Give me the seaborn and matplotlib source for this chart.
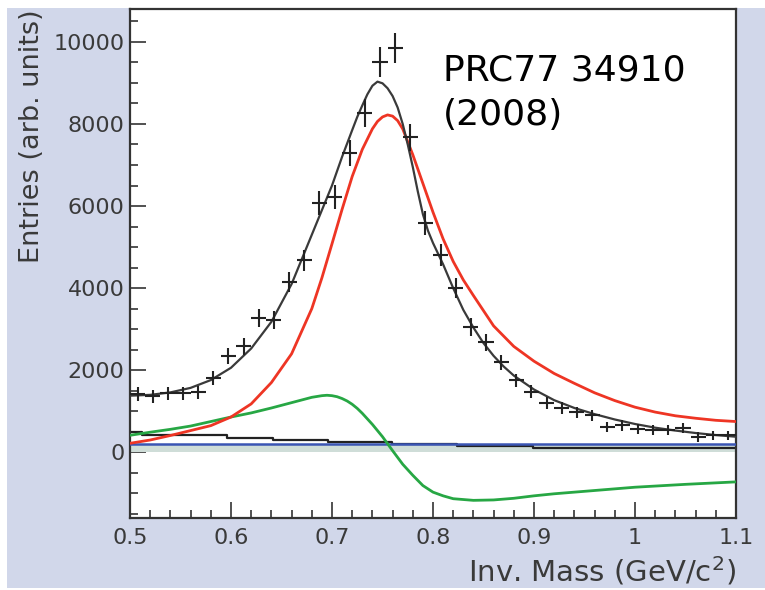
import numpy as np
import pandas as pd
import matplotlib
matplotlib.use("Agg")
import matplotlib.pyplot as plt
from matplotlib.patches import Rectangle
from matplotlib.ticker import MultipleLocator, FixedLocator, FixedFormatter
import seaborn as sns

# ---------------- data ----------------
bin_width = 0.015
data_x = [0.5075, 0.5225, 0.5375, 0.5525, 0.5675, 0.5825, 0.5975, 0.6125, 0.6275, 0.6425,
          0.6575, 0.6725, 0.6875, 0.7025, 0.7175, 0.7325, 0.7475, 0.7625, 0.7775, 0.7925,
          0.8075, 0.8225, 0.8375, 0.8525, 0.8675, 0.8825, 0.8975, 0.9125, 0.9275, 0.9425,
          0.9575, 0.9725, 0.9875, 1.0025, 1.0175, 1.0325, 1.0475, 1.0625, 1.0775, 1.0925]
data_y = [1420, 1370, 1440, 1440, 1460, 1820, 2350, 2580, 3270, 3220,
          4150, 4680, 6070, 6220, 7290, 8270, 9510, 9850, 7680, 5590,
          4800, 4000, 3050, 2680, 2190, 1750, 1480, 1200, 1090, 975,
          900, 620, 660, 560, 540, 540, 590, 370, 410, 410]
data_yerr = [160, 160, 160, 160, 160, 170, 190, 200, 220, 220,
             250, 260, 300, 300, 320, 340, 360, 370, 330, 290,
             270, 250, 220, 200, 185, 170, 160, 150, 145, 140,
             135, 130, 130, 125, 125, 125, 125, 120, 120, 120]

fit_x = [0.50, 0.52, 0.54, 0.56, 0.58, 0.60, 0.62, 0.64, 0.66, 0.68, 0.70, 0.71, 0.72, 0.725,
         0.73, 0.735, 0.74, 0.745, 0.75, 0.755, 0.76, 0.765, 0.77, 0.775, 0.78, 0.785, 0.79,
         0.795, 0.80, 0.81, 0.82, 0.83, 0.84, 0.85, 0.86, 0.87, 0.88, 0.90, 0.92, 0.94, 0.96,
         0.98, 1.00, 1.02, 1.04, 1.06, 1.08, 1.10]
fit_y = [1380, 1400, 1460, 1570, 1760, 2060, 2530, 3180, 4100, 5300, 6500, 7200, 7850, 8170,
         8450, 8720, 8930, 9030, 8990, 8870, 8680, 8400, 8000, 7500, 6950, 6350, 5800,
         5400, 5100, 4580, 4000, 3470, 3040, 2660, 2350, 2090, 1870, 1530, 1270, 1080, 930,
         800, 690, 600, 530, 470, 420, 380]

rho_x = [0.50, 0.52, 0.54, 0.56, 0.58, 0.60, 0.62, 0.64, 0.66, 0.68, 0.69, 0.70, 0.71, 0.72,
         0.73, 0.74, 0.745, 0.75, 0.755, 0.76, 0.765, 0.77, 0.78, 0.79, 0.80, 0.81, 0.82,
         0.83, 0.84, 0.86, 0.88, 0.90, 0.92, 0.94, 0.96, 0.98, 1.00, 1.02, 1.04, 1.06, 1.08,
         1.10]
rho_y = [220, 300, 410, 530, 650, 860, 1180, 1700, 2400, 3500, 4250, 5080, 5920, 6720,
         7380, 7880, 8060, 8170, 8220, 8190, 8080, 7880, 7250, 6550, 5850, 5200, 4650,
         4200, 3820, 3080, 2580, 2220, 1920, 1680, 1450, 1260, 1100, 980, 890, 830, 780,
         750]

intf_x = [0.50, 0.52, 0.54, 0.56, 0.58, 0.60, 0.62, 0.64, 0.66, 0.68, 0.69, 0.695, 0.70,
          0.705, 0.71, 0.715, 0.72, 0.725, 0.73, 0.74, 0.75, 0.76, 0.77, 0.78, 0.79, 0.80,
          0.81, 0.82, 0.84, 0.86, 0.88, 0.90, 0.92, 0.95, 1.00, 1.05, 1.10]
intf_y = [415, 490, 560, 640, 750, 860, 960, 1080, 1210, 1340, 1380, 1390, 1380,
          1355, 1310, 1250, 1170, 1070, 950, 680, 380, 40, -290, -560, -810, -970,
          -1060, -1130, -1170, -1160, -1120, -1060, -1010, -950, -850, -780, -720]

flat_x = [0.50, 1.10]
flat_y = [210, 210]

bg_edges = [0.50, 0.512, 0.596, 0.642, 0.696, 0.759, 0.824, 0.899, 1.10]
bg_vals = [495, 410, 355, 305, 250, 205, 160, 115]

x_ticks = [0.5, 0.6, 0.7, 0.8, 0.9, 1.0, 1.1]
x_tick_labels = ["0.5", "0.6", "0.7", "0.8", "0.9", "1", "1.1"]
y_ticks = [0, 2000, 4000, 6000, 8000, 10000]
y_tick_labels = ["0", "2000", "4000", "6000", "8000", "10000"]

# ---------------- figure ----------------
sns.set_theme(style="white")
plt.rcParams["font.family"] = ["DejaVu Sans"]

fig = plt.figure(figsize=(7.65, 5.9), dpi=100, facecolor="white")
bg = Rectangle((7 / 765, 2 / 590), 1 - 7 / 765, (588 - 8) / 590,
               transform=fig.transFigure, facecolor="#d1d7ea", edgecolor="none")
bg.set_zorder(-10)
fig.add_artist(bg)

ax = fig.add_axes([130 / 765, (590 - 518) / 590, 606 / 765, 509 / 590])
ax.set_zorder(1)
ax.set_facecolor("white")

# shaded band and flat background
ax.fill_between(flat_x, 0, flat_y, color="#cfddd8", lw=0, zorder=1)

# step histogram
step_y = bg_vals + [bg_vals[-1]]
ax.step(bg_edges, step_y, where="post", color="#222222", lw=1.6, zorder=2)

df_flat = pd.DataFrame({"x": flat_x, "y": flat_y})
sns.lineplot(data=df_flat, x="x", y="y", ax=ax, color="#3a55b4", lw=1.8, zorder=3)

df_int = pd.DataFrame({"x": intf_x, "y": intf_y})
sns.lineplot(data=df_int, x="x", y="y", ax=ax, color="#27a744", lw=2.0, zorder=4)

df_rho = pd.DataFrame({"x": rho_x, "y": rho_y})
sns.lineplot(data=df_rho, x="x", y="y", ax=ax, color="#ee3524", lw=2.0, zorder=5)

df_fit = pd.DataFrame({"x": fit_x, "y": fit_y})
sns.lineplot(data=df_fit, x="x", y="y", ax=ax, color="#3a3a3a", lw=1.6, zorder=6)

ax.errorbar(data_x, data_y, xerr=bin_width / 2, yerr=data_yerr, fmt="none",
            ecolor="#222222", elinewidth=1.5, capsize=0, zorder=7)

# axes
ax.set_xlim(0.5, 1.1)
ax.set_ylim(-1600, 10800)
ax.xaxis.set_major_locator(FixedLocator(x_ticks))
ax.xaxis.set_major_formatter(FixedFormatter(x_tick_labels))
ax.xaxis.set_minor_locator(MultipleLocator(0.02))
ax.yaxis.set_major_locator(FixedLocator(y_ticks))
ax.yaxis.set_major_formatter(FixedFormatter(y_tick_labels))
ax.yaxis.set_minor_locator(MultipleLocator(500))

ax.tick_params(which="both", direction="in", color="#333333", width=1.2,
               labelcolor="#3a3a3a", labelsize=16)
ax.tick_params(which="major", length=11.5)
ax.tick_params(which="minor", length=5.8)
ax.tick_params(axis="y", which="both", left=True, right=False, pad=4)
ax.tick_params(axis="x", which="both", bottom=True, top=False, pad=7)

for s in ax.spines.values():
    s.set_color("#333333")
    s.set_linewidth(1.6)

ax.set_xlabel("Inv. Mass (GeV/c$^2$)", loc="right", fontsize=21, color="#3a3a3a")
ax.set_ylabel("Entries (arb. units)", loc="top", fontsize=19.5, color="#3a3a3a")
ax.xaxis.set_label_coords(1.0, -0.072)
ax.yaxis.set_label_coords(-0.14, 1.0)

ax.text(0.5165, 0.8605, "PRC77 34910", transform=ax.transAxes, fontsize=26,
        color="black", ha="left", va="baseline", zorder=10)
ax.text(0.5165, 0.772, "(2008)", transform=ax.transAxes, fontsize=26,
        color="black", ha="left", va="baseline", zorder=10)

fig.savefig("out.png", dpi=100, facecolor="white")
